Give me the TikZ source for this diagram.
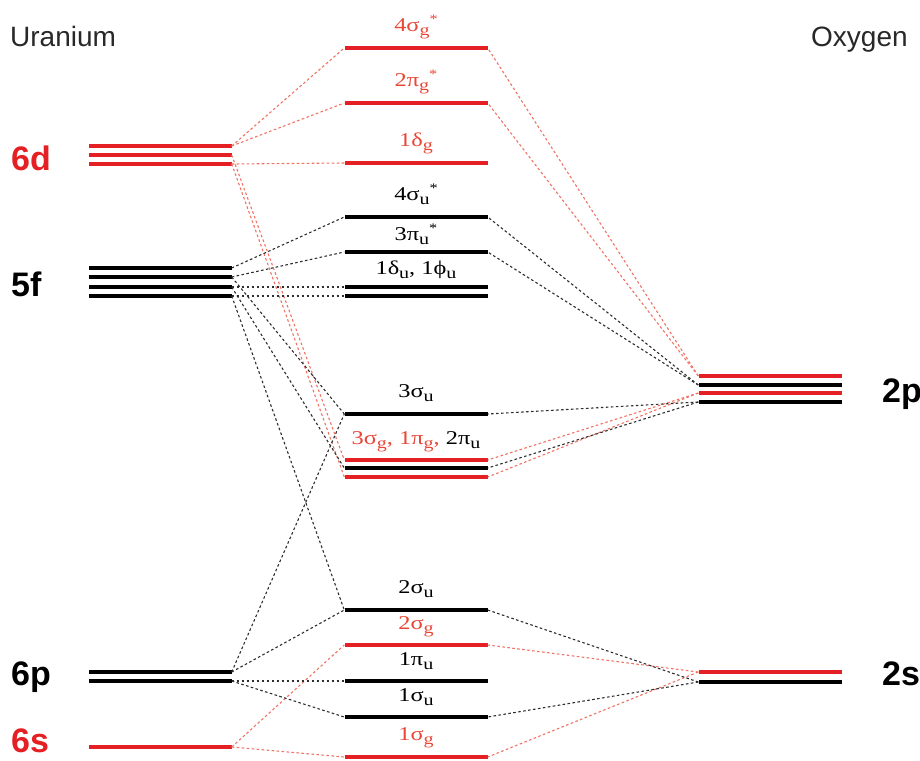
\documentclass[tikz,border=0pt]{standalone}
\usepackage{fontspec}
\setmainfont{Liberation Serif}
\setsansfont{Liberation Sans}
\newfontfamily\orbfont[FakeStretch=1.25]{Liberation Serif}
\usetikzlibrary{positioning}

\definecolor{levred}{RGB}{228,32,36}
\definecolor{labred}{RGB}{232,70,55}
\definecolor{linkred}{RGB}{240,115,100}
\definecolor{linkgray}{RGB}{45,45,45}
\definecolor{headgray}{RGB}{40,40,40}

% subscript and star of an orbital name
\newcommand{\osub}[1]{\raisebox{-4pt}{\fontsize{16}{16}\selectfont #1}}
\newcommand{\ostar}{\raisebox{8.5pt}{\fontsize{13}{13}\selectfont *}}

\tikzset{
  lev/.style={rectangle,fill=black,inner sep=0pt,minimum width=143pt,minimum height=3.6pt},
  redlev/.style={lev,fill=levred},
  link/.style={draw=linkgray,line width=1.1pt,dash pattern=on 2.6pt off 2.4pt},
  redlink/.style={link,draw=linkred},
  orb/.style={font=\orbfont\fontsize{19.5}{19.5}\selectfont,text depth=5pt,inner sep=0pt},
  atom/.style={font=\sffamily\bfseries\fontsize{34}{34}\selectfont,anchor=base west,inner sep=0pt},
  head/.style={font=\sffamily\fontsize{28}{28}\selectfont,text=headgray,anchor=base west,inner sep=0pt}
}

\begin{document}
\begin{tikzpicture}[x=1pt,y=-1pt]
		\useasboundingbox (0,0) rectangle (920,760);

		% uranium levels
		\node[redlev] (d6a) at (160,146) {};
		\node[redlev] (d6b) at (160,155) {};
		\node[redlev] (d6c) at (160,164) {};
		\node[lev] (f5a) at (160,268) {};
		\node[lev] (f5b) at (160,277) {};
		\node[lev] (f5c) at (160,287) {};
		\node[lev] (f5d) at (160,296) {};
		\node[lev] (p6a) at (160,672) {};
		\node[lev] (p6b) at (160,681) {};
		\node[redlev] (s6) at (160,747) {};

		% molecular levels
		\node[redlev] (s4g) at (416,48) {};
		\node[redlev] (p2g) at (416,103) {};
		\node[redlev] (d1g) at (416,163) {};
		\node[lev] (s4u) at (416,217) {};
		\node[lev] (p3u) at (416,252) {};
		\node[lev] (du1) at (416,287) {};
		\node[lev] (du2) at (416,296) {};
		\node[lev] (s3u) at (416,414) {};
		\node[redlev] (g3a) at (416,460) {};
		\node[lev] (g3b) at (416,468) {};
		\node[redlev] (g3c) at (416,477) {};
		\node[lev] (s2u) at (416,610) {};
		\node[redlev] (s2g) at (416,645) {};
		\node[lev] (p1u) at (416,681) {};
		\node[lev] (s1u) at (416,717) {};
		\node[redlev] (s1g) at (416,757) {};

		% oxygen levels
		\node[redlev] (o2pa) at (770,376) {};
		\node[lev] (o2pb) at (770,385) {};
		\node[redlev] (o2pc) at (770,393) {};
		\node[lev] (o2pd) at (770,402) {};
		\node[redlev] (o2sa) at (770,672) {};
		\node[lev] (o2sb) at (770,682) {};

		% labels
		\node[head] (hu) at (10,47) {Uranium};
		\node[head] (ho) at (811,46) {Oxygen};
		\node[atom,text=levred] (l6d) at (11,170) {6d};
		\node[atom] (l5f) at (11,296) {5f};
		\node[atom] (l6p) at (11,685) {6p};
		\node[atom,text=levred] (l6s) at (11,752) {6s};
		\node[atom] (l2p) at (882,402) {2p};
		\node[atom] (l2s) at (882,685) {2s};

		\node[orb,text=labred,above=9pt of s4g] {4σ\osub{g}\ostar};
		\node[orb,text=labred,above=9pt of p2g] {2π\osub{g}\ostar};
		\node[orb,text=labred,above=9pt of d1g] {1δ\osub{g}};
		\node[orb,above=9pt of s4u] {4σ\osub{u}\ostar};
		\node[orb,above=4pt of p3u] {3π\osub{u}\ostar};
		\node[orb,above=5pt of du1] {1δ\osub{u}, 1ϕ\osub{u}};
		\node[orb,above=9pt of s3u] {3σ\osub{u}};
		\node[orb,above=8pt of g3a] {\textcolor{labred}{3σ\osub{g}, 1π\osub{g},} 2π\osub{u}};
		\node[orb,above=9pt of s2u] {2σ\osub{u}};
		\node[orb,text=labred,above=8pt of s2g] {2σ\osub{g}};
		\node[orb,above=8pt of p1u] {1π\osub{u}};
		\node[orb,above=8pt of s1u] {1σ\osub{u}};
		\node[orb,text=labred,above=9pt of s1g] {1σ\osub{g}};

		% 6d and 6s mixing
		\path[redlink] (d6a.east) edge (s4g.west);
		\path[redlink] (d6a.east) edge (p2g.west);
		\path[redlink] (d6c.east) edge (d1g.west);
		\path[redlink] (d6b.east) edge (g3a.west);
		\path[redlink] (d6c.east) edge (g3c.west);
		\path[redlink] (s6.east) edge (s2g.west);
		\path[redlink] (s6.east) edge (s1g.west);
		\path[redlink] (o2pa.west) edge (s4g.east);
		\path[redlink] (o2pa.west) edge (p2g.east);
		\path[redlink] (o2pc.west) edge (g3a.east);
		\path[redlink] (o2pc.west) edge (g3c.east);
		\path[redlink] (o2sa.west) edge (s2g.east);
		\path[redlink] (o2sa.west) edge (s1g.east);

		% 5f and 6p mixing
		\path[link] (f5a.east) edge (s4u.west);
		\path[link] (f5b.east) edge (p3u.west);
		\path[link] (f5c.east) edge (du1.west);
		\path[link] (f5d.east) edge (du2.west);
		\path[link] (f5b.east) edge (s3u.west);
		\path[link] (f5c.east) edge (g3b.west);
		\path[link] (f5d.east) edge (s2u.west);
		\path[link] (p6a.east) edge (s3u.west);
		\path[link] (p6a.east) edge (s2u.west);
		\path[link] (p6b.east) edge (p1u.west);
		\path[link] (p6b.east) edge (s1u.west);
		\path[link] (o2pb.west) edge (s4u.east);
		\path[link] (o2pb.west) edge (p3u.east);
		\path[link] (o2pd.west) edge (s3u.east);
		\path[link] (o2pd.west) edge (g3b.east);
		\path[link] (o2sb.west) edge (s2u.east);
		\path[link] (o2sb.west) edge (s1u.east);
	\end{tikzpicture}
\end{document}
